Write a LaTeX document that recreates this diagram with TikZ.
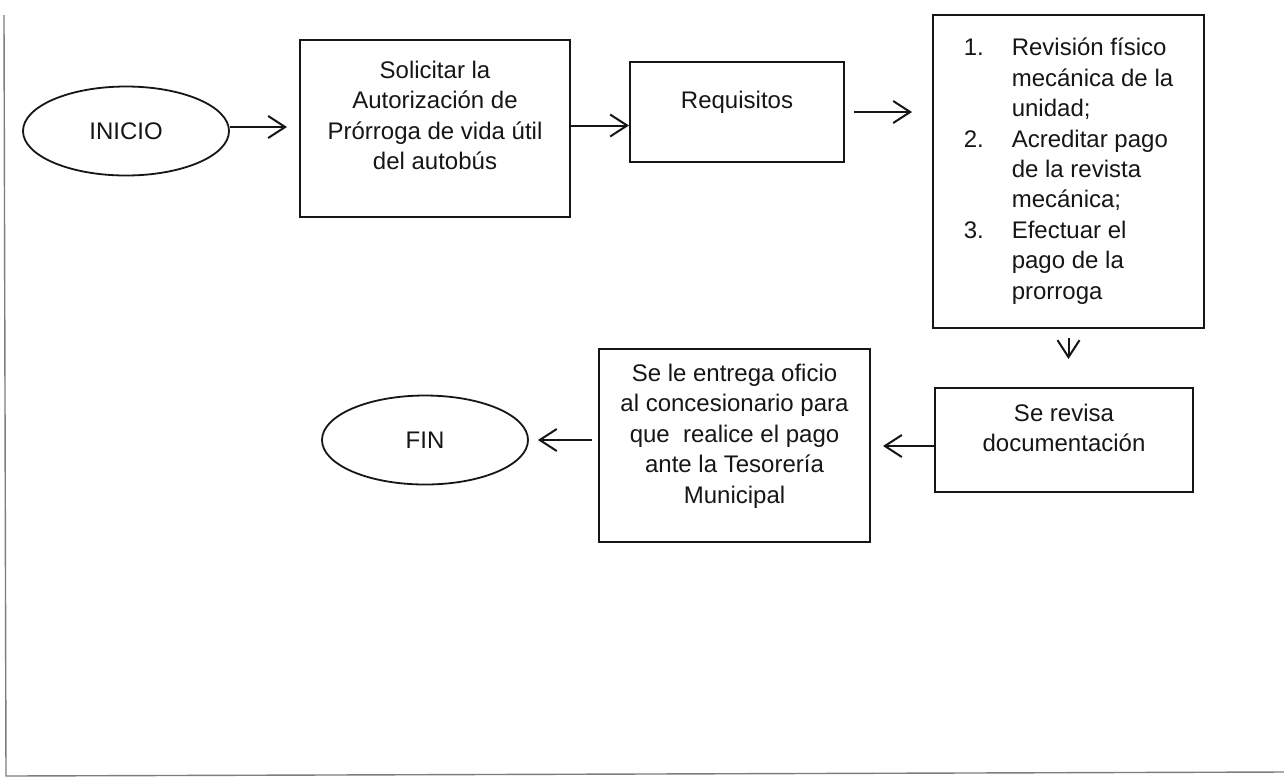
\documentclass[tikz,border=0pt]{standalone}
\usepackage{fontspec}
\setmainfont{Liberation Sans}
\usetikzlibrary{arrows.meta,positioning,shapes.geometric}
\definecolor{ink}{RGB}{22,22,22}
\definecolor{framegray}{RGB}{125,125,125}
\tikzset{
  stepbox/.style={draw=ink, line width=1pt, inner sep=0pt},
  steptext/.style={align=center, inner sep=0pt, text=ink},
  terminal/.style={ellipse, draw=ink, line width=0.9pt, minimum width=103pt,
    minimum height=44.5pt, inner sep=0pt, text=ink},
  arrow/.style={-{Straight Barb[length=8.5pt,width=11pt]}, line width=1pt, draw=ink}
}
\begin{document}
\begin{tikzpicture}[x=0.5pt, y=-0.5pt, font=\fontsize{12}{15.2}\selectfont]
  \path[use as bounding box, fill=white] (0,0) rectangle (1284,778);
  % marco de la hoja
  \draw[framegray, line width=0.7pt] (4,15) -- (6,776) -- (1284,772);
  \node[terminal] (inicio) at (126,131) {INICIO};
  \node[stepbox, minimum width=135pt, minimum height=88.5pt] (solic) at (435,128.5) {};
  \node[steptext] (solictxt) at (435,115.5) {Solicitar la\\Autorización de\\Prórroga de vida útil\\del autobús};
  \node[stepbox, minimum width=107pt, minimum height=50pt] (req) at (737,112) {};
  \node[steptext] (reqtxt) at (737,102) {Requisitos};
  \node[stepbox, minimum width=135.5pt, minimum height=156.5pt, text=ink] (lista) at (1068.5,171.5) {%
    \begin{tabular}{@{}p{24pt}@{}l@{}}
      1. & Revisión físico\\
         & mecánica de la\\
         & unidad;\\
      2. & Acreditar pago\\
         & de la revista\\
         & mecánica;\\
      3. & Efectuar el\\
         & pago de la\\
         & prorroga
    \end{tabular}};
  \node[stepbox, minimum width=129pt, minimum height=52pt] (revisa) at (1064,440) {};
  \node[steptext] (revisatxt) at (1064,428) {Se revisa\\documentación};
  \node[stepbox, minimum width=135.5pt, minimum height=96.5pt] (entrega) at (734.5,445.5) {};
  \node[steptext] (entregatxt) at (734.5,436) {Se le entrega oficio\\al concesionario para\\que~ realice el pago\\ante la Tesorería\\Municipal};
  \node[terminal] (fin) at (425,440) {FIN};
  % conectores
  \draw[arrow, shorten >=6pt] ([yshift=2pt]inicio.east) -- ([yshift=2pt]inicio.east -| solic.west);
  \draw[arrow] ([yshift=1.5pt]solic.east) -- ([yshift=1.5pt]solic.east -| req.west);
  \draw[arrow, shorten <=4.5pt, shorten >=10pt] (req.east) -- (req.east -| lista.west);
  \draw[arrow, shorten <=4.5pt, shorten >=14pt] (lista.south) -- (lista.south |- revisa.north);
  \draw[arrow, shorten >=6pt] ([yshift=-3pt]revisa.west) -- ([yshift=-3pt]revisa.west -| entrega.east);
  \draw[arrow, shorten <=3pt, shorten >=4.5pt] (entrega.west |- fin.east) -- (fin.east);
\end{tikzpicture}
\end{document}
